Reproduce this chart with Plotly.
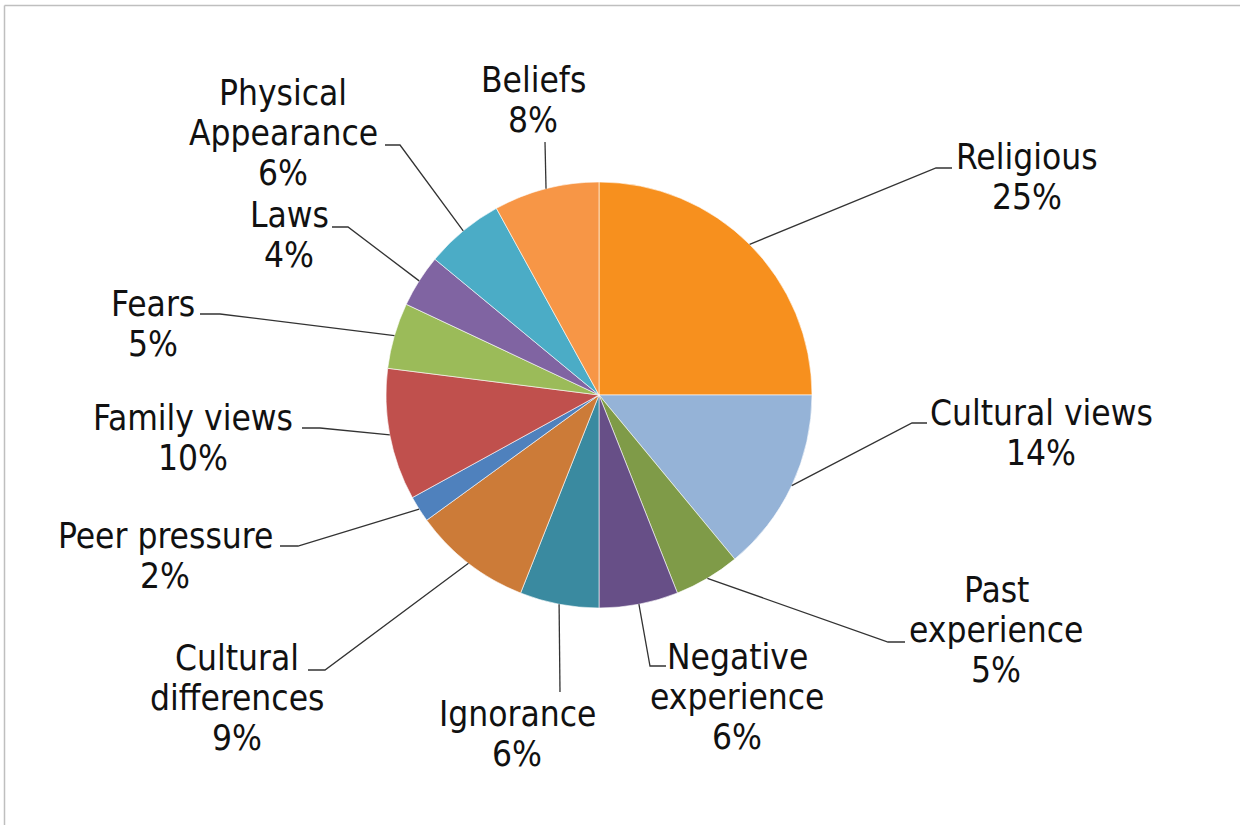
import math
import plotly.graph_objects as go

# ---------------- data ----------------
categories = ["Religious", "Cultural views", "Past experience", "Negative experience",
              "Ignorance", "Cultural differences", "Peer pressure", "Family views",
              "Fears", "Laws", "Physical Appearance", "Beliefs"]
label_lines = [["Religious"], ["Cultural views"], ["Past", "experience"], ["Negative", "experience"],
               ["Ignorance"], ["Cultural", "differences"], ["Peer pressure"], ["Family views"],
               ["Fears"], ["Laws"], ["Physical", "Appearance"], ["Beliefs"]]
values = [25, 14, 5, 6, 6, 9, 2, 10, 5, 4, 6, 8]
colors = ["#F7901E", "#95B3D7", "#7F9B48", "#674F87", "#3A8AA0", "#CC7B38",
          "#4F81BD", "#C0504D", "#9BBB59", "#8064A2", "#4BACC6", "#F79646"]

# ---------------- layout (pixels) ----------------
W, H = 1240, 825
CX, CY, R = 599, 395, 213
LINE_H = 40
# label block centre, leader elbow, leader horizontal end (None = no horizontal part)
label_center = [(1027, 177), (1041, 433), (996, 630), (737, 697), (517, 734), (237, 698),
                (165, 556), (193, 438), (153, 324), (289, 235), (283, 133), (533, 100)]
leader_elbow = [(936, 168), (912, 423), (888, 642), (650, 666), (560, 692), (325, 670),
                (298, 546), (320, 428), (220, 314), (348, 227), (400, 145), (545, 142)]
leader_end_x = [952, 927, 905, 666, None, 308, 280, 302, 200, 332, 385, None]

FONT = "DejaVu Sans Condensed, DejaVu Sans, sans-serif"


def px(x):
    return x / W


def py(y):
    return 1 - y / H


fig = go.Figure()
fig.add_trace(go.Pie(
    labels=categories, values=values, sort=False, direction="clockwise", rotation=0,
    marker=dict(colors=colors, line=dict(color="white", width=0.6)),
    textinfo="none", hoverinfo="label+percent", showlegend=False,
    domain=dict(x=[px(CX - R), px(CX + R)], y=[py(CY + R), py(CY - R)]),
))

total = sum(values)
shapes = []
annotations = []
cum = 0.0
for i, v in enumerate(values):
    mid = (cum + v / 2) / total * 2 * math.pi
    cum += v
    sx = CX + R * math.sin(mid)
    sy = CY - R * math.cos(mid)
    ex, ey = leader_elbow[i]
    path = f"M {px(sx)},{py(sy)} L {px(ex)},{py(ey)}"
    if leader_end_x[i] is not None:
        path += f" L {px(leader_end_x[i])},{py(ey)}"
    shapes.append(dict(type="path", path=path, xref="paper", yref="paper",
                       line=dict(color="#333333", width=1.3)))
    pct = round(v / total * 100)
    lines = label_lines[i] + [f"{pct}%"]
    lx, ly = label_center[i]
    n = len(lines)
    for k, t in enumerate(lines):
        yy = ly + (k - (n - 1) / 2) * LINE_H
        annotations.append(dict(x=px(lx), y=py(yy), xref="paper", yref="paper",
                                text=t, showarrow=False,
                                xanchor="center", yanchor="middle", align="center",
                                font=dict(family=FONT, size=35, color="#111111")))

# chart-area border (top and left visible)
shapes.append(dict(type="line", xref="paper", yref="paper", x0=px(4.5), y0=py(5.5),
                   x1=px(W + 10), y1=py(5.5), line=dict(color="#BFBFBF", width=1.5)))
shapes.append(dict(type="line", xref="paper", yref="paper", x0=px(4.5), y0=py(5.5),
                   x1=px(4.5), y1=py(H + 10), line=dict(color="#BFBFBF", width=1.5)))

fig.update_layout(width=W, height=H, margin=dict(l=0, r=0, t=0, b=0),
                  paper_bgcolor="white", plot_bgcolor="white",
                  shapes=shapes, annotations=annotations)

fig.write_html("out.html", config={"displayModeBar": False},
               post_script="document.body.style.margin='0';")
